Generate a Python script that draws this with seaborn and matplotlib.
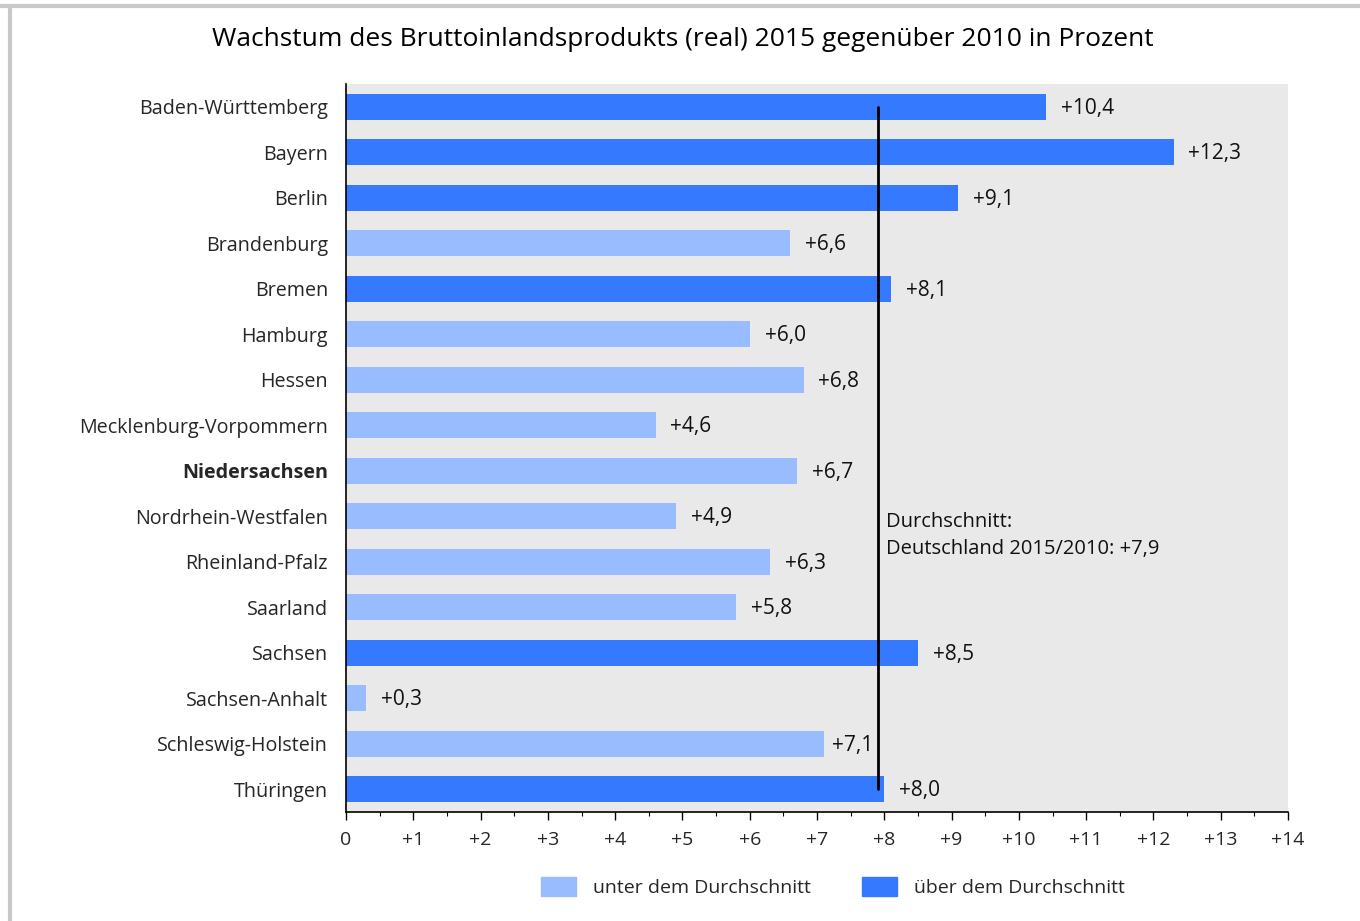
import matplotlib.pyplot as plt
import matplotlib.patches as mpatches
from matplotlib.ticker import MultipleLocator
import pandas as pd
import seaborn as sns

# data
laender = ['Baden-Württemberg', 'Bayern', 'Berlin', 'Brandenburg', 'Bremen',
           'Hamburg', 'Hessen', 'Mecklenburg-Vorpommern', 'Niedersachsen',
           'Nordrhein-Westfalen', 'Rheinland-Pfalz', 'Saarland', 'Sachsen',
           'Sachsen-Anhalt', 'Schleswig-Holstein', 'Thüringen']
wachstum = [10.4, 12.3, 9.1, 6.6, 8.1, 6.0, 6.8, 4.6, 6.7, 4.9, 6.3, 5.8,
            8.5, 0.3, 7.1, 8.0]
durchschnitt = 7.9
x_ticks = list(range(0, 15))

gruppe_unter = 'unter dem Durchschnitt'
gruppe_ueber = 'über dem Durchschnitt'
farben = {gruppe_unter: '#99BBFF', gruppe_ueber: '#3579FF'}

df = pd.DataFrame({'land': laender, 'wert': wachstum})
df['gruppe'] = [gruppe_ueber if v > durchschnitt else gruppe_unter
                for v in df['wert']]

sns.set_style('white')
plt.rcParams['font.family'] = ['Open Sans', 'DejaVu Sans']

fig = plt.figure(figsize=(13.6, 9.21), dpi=100)
ax = fig.add_axes([346 / 1360, 1 - 812 / 921, 942 / 1360, 728 / 921])

sns.barplot(data=df, y='land', x='wert', hue='gruppe', palette=farben,
            dodge=False, width=0.57, orient='h', legend=False, ax=ax,
            saturation=1, linewidth=0)

ax.set_facecolor('#E9E9E9')
ax.set_xlim(0, 14)
ax.set_ylim(len(laender) - 0.5, -0.5)
ax.set_xlabel('')
ax.set_ylabel('')
ax.set_xticks(x_ticks)
ax.set_xticklabels(['0'] + [f'+{t}' for t in x_ticks[1:]], fontsize=14)
ax.xaxis.set_minor_locator(MultipleLocator(0.5))
ax.tick_params(axis='x', which='major', length=6, width=1, color='black',
               direction='out', bottom=True, pad=8)
ax.tick_params(axis='x', which='minor', length=3, width=0.8, color='black',
               direction='out', bottom=True)
ax.tick_params(axis='y', length=0, pad=13, labelsize=14.2)
for lbl in ax.get_yticklabels():
    if lbl.get_text() == 'Niedersachsen':
        lbl.set_fontweight('bold')

for s in ['top', 'right']:
    ax.spines[s].set_visible(False)
for s in ['left', 'bottom']:
    ax.spines[s].set_color('black')
    ax.spines[s].set_linewidth(1.2)

# value labels; squeeze a label in front of the average line if it would touch it
for i, v in enumerate(wachstum):
    off = 0.12 if v < durchschnitt < v + 0.9 else 0.22
    ax.text(v + off, i + 0.03, f'+{v:.1f}'.replace('.', ','), va='center',
            ha='left', fontsize=15, color='#111111')

# average line
ax.plot([durchschnitt, durchschnitt], [0, len(laender) - 1],
        color='black', lw=2, zorder=5)
ax.text(durchschnitt + 0.12, 9.42,
        'Durchschnitt:\nDeutschland 2015/2010: +7,9',
        va='center', ha='left', fontsize=14.5, color='#111111',
        linespacing=1.45)

fig.text(683 / 1360, 1 - 39 / 921,
         'Wachstum des Bruttoinlandsprodukts (real) 2015 gegenüber 2010 in Prozent',
         ha='center', va='center', fontsize=19, color='black')

handles = [mpatches.Patch(color=farben[g], label=g)
           for g in [gruppe_unter, gruppe_ueber]]
fig.legend(handles=handles, loc='center', bbox_to_anchor=(833 / 1360, 1 - 887 / 921),
           ncol=2, frameon=False, fontsize=14, handlelength=1.8,
           handleheight=1.1, columnspacing=2.6, handletextpad=0.9)

# grey frame on top and left
fig.add_artist(plt.Line2D([0, 1], [1 - 6 / 921, 1 - 6 / 921],
                          transform=fig.transFigure, color='#C8C8C8', lw=3))
fig.add_artist(plt.Line2D([10 / 1360, 10 / 1360], [0, 1 - 6 / 921],
                          transform=fig.transFigure, color='#C8C8C8', lw=3))

fig.savefig('out.png', dpi=100)
